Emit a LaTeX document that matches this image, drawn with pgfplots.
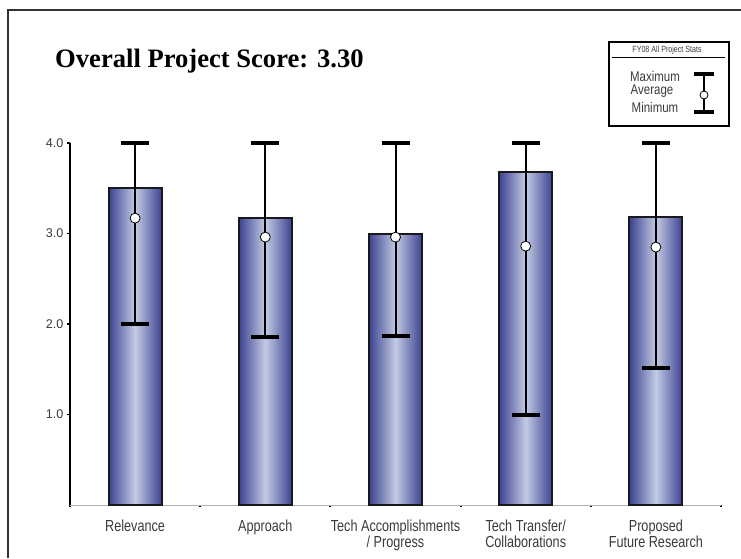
\documentclass[border=0pt]{standalone}
\usepackage{pgfplots}
\pgfplotsset{compat=1.18}
\usepackage{fontspec}
\setmainfont{Liberation Sans}
\newfontfamily\narrowfont[FakeStretch=0.79]{Liberation Sans}
\newfontfamily\legfont[FakeStretch=0.82]{Liberation Sans}
\newfontfamily\titlefont{Liberation Serif}
\definecolor{bardark}{HTML}{3C4290}
\definecolor{barlight}{HTML}{C3CBE4}
\definecolor{txt}{HTML}{3A3A3A}
\pgfplotsset{gbar/.style={ybar, bar width=53pt, bar shift=0pt, draw=black!90, line width=2pt,
  left color=bardark, right color=bardark, middle color=barlight}}
\begin{document}
\begin{tikzpicture}
\path[use as bounding box] (0pt,0pt) rectangle (741pt,558pt);
\draw[line width=2pt, color=black!80] (8pt,0pt) -- (8pt,548pt) -- (741pt,548pt);
\node[anchor=base west, inner sep=0pt, font=\titlefont\bfseries\fontsize{26.6}{30}\selectfont] at (55pt,490pt) {Overall Project Score: 3.30};
% legend
\draw[line width=1.5pt, black] (609pt,432pt) rectangle (729pt,516pt);
\node[font=\narrowfont\fontsize{9}{9}\selectfont, inner sep=0pt, text=txt] at (667pt,507.5pt) {FY08 All Project Stats};
\draw[line width=1pt, black] (612pt,500pt) -- (725pt,500pt);
\node[font=\legfont\fontsize{14}{14}\selectfont, inner sep=0pt, text=txt] at (655pt,482pt) {Maximum};
\node[font=\legfont\fontsize{14}{14}\selectfont, inner sep=0pt, text=txt] at (652pt,466.5pt) {Average};
\node[font=\legfont\fontsize{14}{14}\selectfont, inner sep=0pt, text=txt] at (655pt,451pt) {Minimum};
\draw[line width=1.8pt, black] (704pt,446pt) -- (704pt,484pt);
\draw[line width=3.5pt, black] (694pt,484pt) -- (714pt,484pt);
\draw[line width=3.5pt, black] (694pt,446pt) -- (714pt,446pt);
\draw[line width=0.8pt, black, fill=white] (704pt,463pt) circle (4pt);
\begin{axis}[
  at={(70pt,53pt)}, anchor=south west, scale only axis,
  width=651pt, height=362pt,
  xmin=-0.5, xmax=4.5, ymin=0, ymax=4,
  clip=false,
  axis lines=left,
  axis line style={-},
  x axis line style={black!30, line width=1pt},
  y axis line style={black, line width=2pt},
  tick align=outside,
  ytick={1,2,3,4},
  yticklabels={1.0,2.0,3.0,4.0},
  ytick style={black, line width=1.5pt},
  major tick length=3pt,
  yticklabel style={font=\fontsize{12.6}{13}\selectfont, text=txt},
  xtick={0,1,2,3,4},
  xticklabels={Relevance, Approach, Tech Accomplishments\\/ Progress, Tech Transfer/\\Collaborations, Proposed\\Future Research},
  major x tick style={draw=none},
  minor xtick={-0.5,0.5,1.5,2.5,3.5,4.5},
  minor x tick style={black, line width=2pt},
  minor tick length=2pt,
  xticklabel style={font=\narrowfont\fontsize{16}{16}\selectfont, text=txt, align=center, anchor=north, yshift=-8pt},
]
\addplot[gbar] coordinates {(0,3.50)};
\addplot[gbar] coordinates {(1,3.17)};
\addplot[gbar] coordinates {(2,3.00)};
\addplot[gbar] coordinates {(3,3.68)};
\addplot[gbar] coordinates {(4,3.18)};
\addplot[only marks, mark=*, mark size=5pt,
  mark options={fill=white, draw=black, line width=0.8pt},
  error bars/.cd, y dir=both, y explicit,
  error bar style={line width=2pt, black},
  error mark options={rotate=90, line width=4pt, mark size=14pt, black}]
  table[x=x, y=avg, y error plus=ep, y error minus=em] {
x avg ep em
0 3.17 0.83 1.17
1 2.96 1.04 1.10
2 2.96 1.04 1.09
3 2.86 1.14 1.86
4 2.85 1.15 1.34
};
\end{axis}
\end{tikzpicture}
\end{document}
